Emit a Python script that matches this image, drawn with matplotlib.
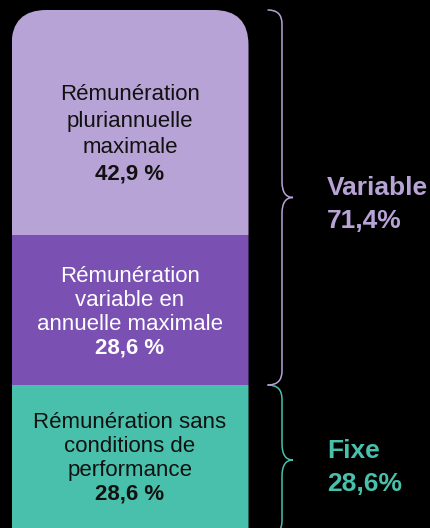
import matplotlib.pyplot as plt
import numpy as np
from matplotlib.patches import FancyBboxPatch, PathPatch
from matplotlib.path import Path

plt.rcParams['font.family'] = ['Liberation Sans', 'DejaVu Sans']

# Stacked shares, bottom to top
seg_labels = ['Rémunération sans\nconditions de\nperformance',
              'Rémunération\nvariable en\nannuelle maximale',
              'Rémunération\npluriannuelle\nmaximale']
seg_values = [28.6, 28.6, 42.9]
seg_colors = ['#48C0AB', '#7A50B3', '#B8A3D6']
seg_text_colors = ['#111111', '#FFFFFF', '#111111']

# Brace groups
group_names = ['Fixe', 'Variable']
group_totals = [28.6, 71.4]
group_members = [(0, 0), (1, 2)]
group_colors = ['#48C0AB', '#B8A3D6']

W, H, DPI = 430, 528, 100
fig = plt.figure(figsize=(W / DPI, H / DPI), dpi=DPI, facecolor='black')
ax = fig.add_axes([0, 0, 1, 1])
ax.axis('off')

# vertical scale: pixels per percent, and pixel row where 0 % sits
px_per_pct = 5.245
base_px = 535
ax.set_xlim(0, W)
ax.set_ylim((base_px - H) / px_per_pct, base_px / px_per_pct)
pt = 72 / DPI

bottoms = np.concatenate([[0], np.cumsum(seg_values)[:-1]])
tops = bottoms + np.array(seg_values)
bar_left, bar_width = 11.5, 237
bars = ax.bar(bar_left, seg_values, width=bar_width, bottom=bottoms,
              align='edge', color=seg_colors, linewidth=0)

# round only the top corners: clip with a rounded box that runs past the bottom
clip = FancyBboxPatch((bar_left, -20), bar_width, tops[-1] + 20,
                      boxstyle='round,pad=0,rounding_size=35',
                      mutation_aspect=1 / px_per_pct,
                      transform=ax.transData, facecolor='none', edgecolor='none')
for b in bars:
    b.set_clip_path(clip)

# labels inside each segment
line_pitch = [24, 24, 26.5]
line_shift = [-4, 0, 9.5]
cx = bar_left + bar_width / 2
for i in range(len(seg_values)):
    lines = seg_labels[i].split('\n') + [f'{seg_values[i]:.1f} %'.replace('.', ',')]
    n = len(lines)
    cy = bottoms[i] + seg_values[i] / 2
    for j, line in enumerate(lines):
        dy = (j - (n - 1) / 2) * line_pitch[i] + line_shift[i] + 8
        ax.annotate(line, (cx, cy), xytext=(0, -dy * pt), textcoords='offset points',
                    ha='center', va='baseline', fontsize=16, color=seg_text_colors[i],
                    fontweight='bold' if j == n - 1 else 'normal')


def brace(y_lo, y_hi, color, x_end=268, x_mid=282, x_tip=293, r=14, rt=16):
    ry = r / px_per_pct
    rty = rt / px_per_pct
    ym = (y_lo + y_hi) / 2
    verts = [(x_end, y_hi), (x_mid, y_hi), (x_mid, y_hi - ry),
             (x_mid, ym + rty), (x_mid, ym), (x_tip, ym),
             (x_mid, ym), (x_mid, ym - rty),
             (x_mid, y_lo + ry), (x_mid, y_lo), (x_end, y_lo)]
    codes = [Path.MOVETO, Path.CURVE3, Path.CURVE3, Path.LINETO,
             Path.CURVE3, Path.CURVE3, Path.CURVE3, Path.CURVE3,
             Path.LINETO, Path.CURVE3, Path.CURVE3]
    ax.add_patch(PathPatch(Path(verts, codes), facecolor='none',
                           edgecolor=color, lw=1.1, capstyle='round'))
    return ym


for name, total, (a, b), color in zip(group_names, group_totals, group_members, group_colors):
    ym = brace(bottoms[a], tops[b], color)
    ax.annotate(name, (327, ym), xytext=(0, 2 * pt), textcoords='offset points',
                ha='left', va='baseline', fontsize=19, fontweight='bold', color=color)
    ax.annotate(f'{total:.1f}%'.replace('.', ','), (327, ym), xytext=(0, -31 * pt),
                textcoords='offset points', ha='left', va='baseline',
                fontsize=19, fontweight='bold', color=color)

fig.savefig('out.png', dpi=DPI, facecolor='black')
